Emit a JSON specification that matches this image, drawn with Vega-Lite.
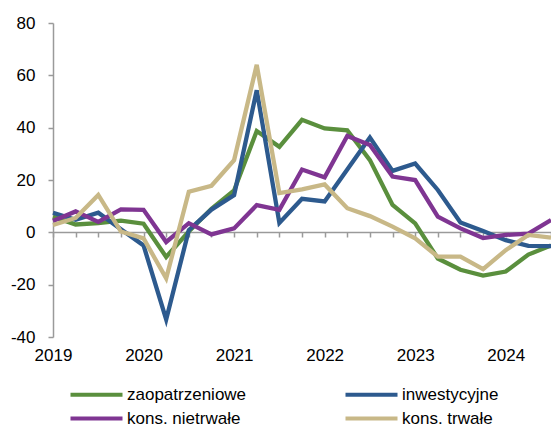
{
  "$schema": "https://vega.github.io/schema/vega-lite/v6.json",
  "width": 498,
  "height": 314,
  "autosize": "none",
  "padding": {"left": 53, "top": 23, "right": 0, "bottom": 93},
  "background": "white",
  "config": {
    "view": {"stroke": null},
    "font": "Liberation Sans",
    "axis": {"grid": false, "domainColor": "#9a9a9a", "tickColor": "#9a9a9a", "domainWidth": 1.5, "tickWidth": 1.5, "labelFont": "Liberation Sans", "labelFontSize": 17, "labelColor": "#000000"}
  },
  "datasets": {
    "d": [
      {"q": "2019 Q1", "s": "zaopatrzeniowe", "v": 6},
      {"q": "2019 Q2", "s": "zaopatrzeniowe", "v": 3},
      {"q": "2019 Q3", "s": "zaopatrzeniowe", "v": 3.5},
      {"q": "2019 Q4", "s": "zaopatrzeniowe", "v": 4.5},
      {"q": "2020 Q1", "s": "zaopatrzeniowe", "v": 3.3},
      {"q": "2020 Q2", "s": "zaopatrzeniowe", "v": -9.4},
      {"q": "2020 Q3", "s": "zaopatrzeniowe", "v": 0.3},
      {"q": "2020 Q4", "s": "zaopatrzeniowe", "v": 9},
      {"q": "2021 Q1", "s": "zaopatrzeniowe", "v": 16},
      {"q": "2021 Q2", "s": "zaopatrzeniowe", "v": 38.7},
      {"q": "2021 Q3", "s": "zaopatrzeniowe", "v": 32.7},
      {"q": "2021 Q4", "s": "zaopatrzeniowe", "v": 43},
      {"q": "2022 Q1", "s": "zaopatrzeniowe", "v": 39.7},
      {"q": "2022 Q2", "s": "zaopatrzeniowe", "v": 39},
      {"q": "2022 Q3", "s": "zaopatrzeniowe", "v": 27.6},
      {"q": "2022 Q4", "s": "zaopatrzeniowe", "v": 10.5},
      {"q": "2023 Q1", "s": "zaopatrzeniowe", "v": 3.4},
      {"q": "2023 Q2", "s": "zaopatrzeniowe", "v": -10},
      {"q": "2023 Q3", "s": "zaopatrzeniowe", "v": -14.3},
      {"q": "2023 Q4", "s": "zaopatrzeniowe", "v": -16.5},
      {"q": "2024 Q1", "s": "zaopatrzeniowe", "v": -15},
      {"q": "2024 Q2", "s": "zaopatrzeniowe", "v": -8.5},
      {"q": "2024 Q3", "s": "zaopatrzeniowe", "v": -5},
      {"q": "2019 Q1", "s": "inwestycyjne", "v": 7.5},
      {"q": "2019 Q2", "s": "inwestycyjne", "v": 4.8},
      {"q": "2019 Q3", "s": "inwestycyjne", "v": 7.5},
      {"q": "2019 Q4", "s": "inwestycyjne", "v": 1.2},
      {"q": "2020 Q1", "s": "inwestycyjne", "v": -5},
      {"q": "2020 Q2", "s": "inwestycyjne", "v": -33.3},
      {"q": "2020 Q3", "s": "inwestycyjne", "v": 0.8},
      {"q": "2020 Q4", "s": "inwestycyjne", "v": 8.7},
      {"q": "2021 Q1", "s": "inwestycyjne", "v": 14.2},
      {"q": "2021 Q2", "s": "inwestycyjne", "v": 54.3},
      {"q": "2021 Q3", "s": "inwestycyjne", "v": 3.6},
      {"q": "2021 Q4", "s": "inwestycyjne", "v": 12.8},
      {"q": "2022 Q1", "s": "inwestycyjne", "v": 11.8},
      {"q": "2022 Q2", "s": "inwestycyjne", "v": 24},
      {"q": "2022 Q3", "s": "inwestycyjne", "v": 36.2},
      {"q": "2022 Q4", "s": "inwestycyjne", "v": 23.5},
      {"q": "2023 Q1", "s": "inwestycyjne", "v": 26.3},
      {"q": "2023 Q2", "s": "inwestycyjne", "v": 16.2},
      {"q": "2023 Q3", "s": "inwestycyjne", "v": 3.8},
      {"q": "2023 Q4", "s": "inwestycyjne", "v": 0.5},
      {"q": "2024 Q1", "s": "inwestycyjne", "v": -3},
      {"q": "2024 Q2", "s": "inwestycyjne", "v": -5.2},
      {"q": "2024 Q3", "s": "inwestycyjne", "v": -5.3},
      {"q": "2019 Q1", "s": "kons. nietrwałe", "v": 4.3},
      {"q": "2019 Q2", "s": "kons. nietrwałe", "v": 8},
      {"q": "2019 Q3", "s": "kons. nietrwałe", "v": 4},
      {"q": "2019 Q4", "s": "kons. nietrwałe", "v": 8.8},
      {"q": "2020 Q1", "s": "kons. nietrwałe", "v": 8.6},
      {"q": "2020 Q2", "s": "kons. nietrwałe", "v": -3.7},
      {"q": "2020 Q3", "s": "kons. nietrwałe", "v": 3.5},
      {"q": "2020 Q4", "s": "kons. nietrwałe", "v": -0.8},
      {"q": "2021 Q1", "s": "kons. nietrwałe", "v": 1.5},
      {"q": "2021 Q2", "s": "kons. nietrwałe", "v": 10.4},
      {"q": "2021 Q3", "s": "kons. nietrwałe", "v": 8.6},
      {"q": "2021 Q4", "s": "kons. nietrwałe", "v": 24},
      {"q": "2022 Q1", "s": "kons. nietrwałe", "v": 21},
      {"q": "2022 Q2", "s": "kons. nietrwałe", "v": 36.8},
      {"q": "2022 Q3", "s": "kons. nietrwałe", "v": 33.4},
      {"q": "2022 Q4", "s": "kons. nietrwałe", "v": 21.3},
      {"q": "2023 Q1", "s": "kons. nietrwałe", "v": 20},
      {"q": "2023 Q2", "s": "kons. nietrwałe", "v": 6},
      {"q": "2023 Q3", "s": "kons. nietrwałe", "v": 1.5},
      {"q": "2023 Q4", "s": "kons. nietrwałe", "v": -2.2},
      {"q": "2024 Q1", "s": "kons. nietrwałe", "v": -1},
      {"q": "2024 Q2", "s": "kons. nietrwałe", "v": -0.5},
      {"q": "2024 Q3", "s": "kons. nietrwałe", "v": 4.7},
      {"q": "2019 Q1", "s": "kons. trwałe", "v": 2.8},
      {"q": "2019 Q2", "s": "kons. trwałe", "v": 5.5},
      {"q": "2019 Q3", "s": "kons. trwałe", "v": 14.3},
      {"q": "2019 Q4", "s": "kons. trwałe", "v": 0.3},
      {"q": "2020 Q1", "s": "kons. trwałe", "v": -2.3},
      {"q": "2020 Q2", "s": "kons. trwałe", "v": -17.6},
      {"q": "2020 Q3", "s": "kons. trwałe", "v": 15.5},
      {"q": "2020 Q4", "s": "kons. trwałe", "v": 17.8},
      {"q": "2021 Q1", "s": "kons. trwałe", "v": 27.6},
      {"q": "2021 Q2", "s": "kons. trwałe", "v": 64},
      {"q": "2021 Q3", "s": "kons. trwałe", "v": 15},
      {"q": "2021 Q4", "s": "kons. trwałe", "v": 16.4},
      {"q": "2022 Q1", "s": "kons. trwałe", "v": 18.3},
      {"q": "2022 Q2", "s": "kons. trwałe", "v": 9.2},
      {"q": "2022 Q3", "s": "kons. trwałe", "v": 6.2},
      {"q": "2022 Q4", "s": "kons. trwałe", "v": 2.2},
      {"q": "2023 Q1", "s": "kons. trwałe", "v": -2.3},
      {"q": "2023 Q2", "s": "kons. trwałe", "v": -9.3},
      {"q": "2023 Q3", "s": "kons. trwałe", "v": -9.3},
      {"q": "2023 Q4", "s": "kons. trwałe", "v": -14.1},
      {"q": "2024 Q1", "s": "kons. trwałe", "v": -6.8},
      {"q": "2024 Q2", "s": "kons. trwałe", "v": -1},
      {"q": "2024 Q3", "s": "kons. trwałe", "v": -2}
    ]
  },
  "data": {"name": "d"},
  "layer": [
    {
      "mark": {"type": "line", "opacity": 0},
      "encoding": {
        "x": {"field": "q", "type": "ordinal", "scale": {"type": "point", "padding": 0},
          "axis": {"title": null, "orient": "bottom", "offset": -105, "labels": false, "ticks": true, "tickSize": 5, "domain": true}},
        "y": {"field": "v", "type": "quantitative"},
        "detail": {"field": "s"}
      }
    },
    {
      "mark": {"type": "line", "strokeWidth": 4.3},
      "encoding": {
        "x": {"field": "q", "type": "ordinal", "scale": {"type": "point", "padding": 0},
          "axis": {"title": null, "orient": "bottom", "domain": false, "ticks": false, "labelAngle": 0, "labelPadding": 10, "labelDx": 2, "labelOverlap": false,
            "labelExpr": "slice(datum.value, 5) == 'Q1' ? slice(datum.value, 0, 4) : ''"}},
        "y": {"field": "v", "type": "quantitative", "scale": {"domain": [-40, 80], "nice": false, "zero": false},
          "axis": {"title": null, "values": [-40, -20, 0, 20, 40, 60, 80], "tickSize": 5, "labelPadding": 13,
            "labelExpr": "datum.value < 0 ? '-' + abs(datum.value) : '' + datum.value"}},
        "color": {"field": "s", "type": "nominal",
          "scale": {"domain": ["zaopatrzeniowe", "inwestycyjne", "kons. nietrwałe", "kons. trwałe"], "range": ["#5A8F3D", "#2D5A8E", "#7F3592", "#C8B887"]},
          "legend": {"orient": "none", "legendX": 14, "legendY": 363, "direction": "horizontal", "columns": 2, "title": null,
            "symbolType": "M-1,0H9.4", "symbolSize": 100, "symbolStrokeWidth": 4, "labelFontSize": 17, "labelFont": "Liberation Sans",
            "labelOffset": 43, "columnPadding": 90, "rowPadding": 6, "labelLimit": 300, "labelColor": "#000000"}}
      }
    }
  ],
  "resolve": {"axis": {"x": "independent"}}
}
